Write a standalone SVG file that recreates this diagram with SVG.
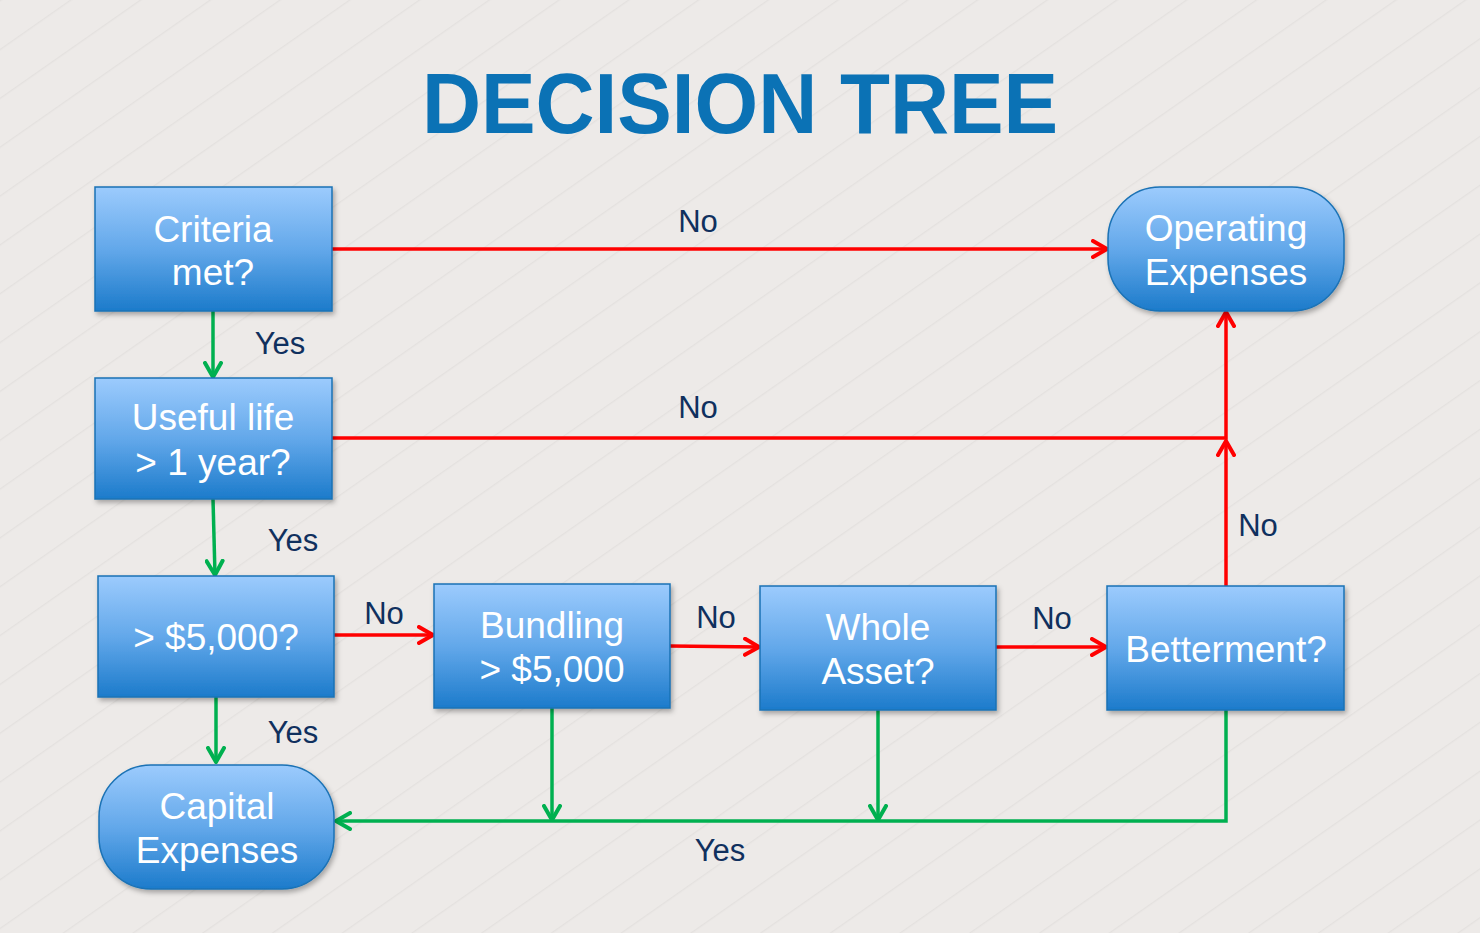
<svg xmlns="http://www.w3.org/2000/svg" width="1480" height="933" viewBox="0 0 1480 933">
<style>
.node{fill:url(#ng);stroke:#1A72B5;stroke-width:1.5;filter:url(#sh)}
.nt{font-family:"Liberation Sans",Arial,sans-serif;font-size:37px;fill:#fff;text-anchor:middle}
.lb{font-family:"Liberation Sans",Arial,sans-serif;font-size:31px;fill:#10305E;text-anchor:middle}
.red{fill:none;stroke:#FF0000;stroke-width:3.5;marker-end:url(#ar)}
.grn{fill:none;stroke:#00B050;stroke-width:3.5;marker-end:url(#ag)}
</style>
<defs>
<linearGradient id="ng" x1="0" y1="0" x2="0" y2="1">
<stop offset="0" stop-color="#9CCBFD"/>
<stop offset="0.5" stop-color="#63A8EA"/>
<stop offset="1" stop-color="#1C7BCB"/>
</linearGradient>
<filter id="sh" x="-10%" y="-10%" width="125%" height="130%">
<feDropShadow dx="2" dy="3" stdDeviation="2.5" flood-color="#000" flood-opacity="0.3"/>
</filter>
<pattern id="bgp" width="40" height="40" patternUnits="userSpaceOnUse" patternTransform="rotate(-35)">
<rect width="40" height="40" fill="#EDEAE8"/>
<line x1="0" y1="0.5" x2="40" y2="0.5" stroke="#E4E1DF" stroke-width="1.5"/>
</pattern>
<marker id="ar" viewBox="0 0 18 20" refX="16" refY="10" markerWidth="18" markerHeight="20" markerUnits="userSpaceOnUse" orient="auto">
<path d="M2,2 L16,10 L2,18" fill="none" stroke="#FF0000" stroke-width="4" stroke-linecap="round" stroke-linejoin="round"/>
</marker>
<marker id="ag" viewBox="0 0 18 20" refX="16" refY="10" markerWidth="18" markerHeight="20" markerUnits="userSpaceOnUse" orient="auto">
<path d="M2,2 L16,10 L2,18" fill="none" stroke="#00B050" stroke-width="4" stroke-linecap="round" stroke-linejoin="round"/>
</marker>
</defs>
<rect width="1480" height="933" fill="url(#bgp)"/>
<text x="740" y="133" font-family="'Liberation Sans',Arial,sans-serif" font-weight="bold" font-size="86" fill="#0B72B5" text-anchor="middle" textLength="636" lengthAdjust="spacingAndGlyphs">DECISION TREE</text>

<g id="connectors">
<path class="red" d="M332,249 H1107"/>
<path class="grn" d="M213,311 V377"/>
<path class="red" d="M332,438 H1226 V312"/>
<path class="grn" d="M213,499 L215,575"/>
<path class="red" d="M334,635 H433"/>
<path class="red" d="M670,646 L759,647"/>
<path class="red" d="M996,647 H1106"/>
<path class="red" d="M1226,586 V441"/>
<path class="grn" d="M216,697 V762"/>
<path class="grn" d="M552,708 V820"/>
<path class="grn" d="M878,710 V820"/>
<path class="grn" d="M1226,710 V821 H336"/>
<text class="lb" x="698" y="232">No</text>
<text class="lb" x="280" y="354">Yes</text>
<text class="lb" x="698" y="418">No</text>
<text class="lb" x="293" y="551">Yes</text>
<text class="lb" x="384" y="624">No</text>
<text class="lb" x="716" y="628">No</text>
<text class="lb" x="1052" y="629">No</text>
<text class="lb" x="1258" y="536">No</text>
<text class="lb" x="293" y="743">Yes</text>
<text class="lb" x="720" y="861">Yes</text>
</g>

<g id="criteria">
<rect class="node" x="95" y="187" width="237" height="124"/>
<text class="nt" x="213" y="242">Criteria</text>
<text class="nt" x="213" y="285">met?</text>
</g>
<g id="operating">
<rect class="node" x="1108" y="187" width="236" height="124" rx="52" ry="52"/>
<text class="nt" x="1226" y="241">Operating</text>
<text class="nt" x="1226" y="285">Expenses</text>
</g>
<g id="useful">
<rect class="node" x="95" y="378" width="237" height="121"/>
<text class="nt" x="213" y="430">Useful life</text>
<text class="nt" x="213" y="475">&gt; 1 year?</text>
</g>
<g id="over5000">
<rect class="node" x="98" y="576" width="236" height="121"/>
<text class="nt" x="216" y="650">&gt; $5,000?</text>
</g>
<g id="bundling">
<rect class="node" x="434" y="584" width="236" height="124"/>
<text class="nt" x="552" y="638">Bundling</text>
<text class="nt" x="552" y="682">&gt; $5,000</text>
</g>
<g id="whole">
<rect class="node" x="760" y="586" width="236" height="124"/>
<text class="nt" x="878" y="640">Whole</text>
<text class="nt" x="878" y="684">Asset?</text>
</g>
<g id="betterment">
<rect class="node" x="1107" y="586" width="237" height="124"/>
<text class="nt" x="1226" y="662">Betterment?</text>
</g>
<g id="capital">
<rect class="node" x="99" y="765" width="235" height="124" rx="52" ry="52"/>
<text class="nt" x="217" y="819">Capital</text>
<text class="nt" x="217" y="863">Expenses</text>
</g>
</svg>
